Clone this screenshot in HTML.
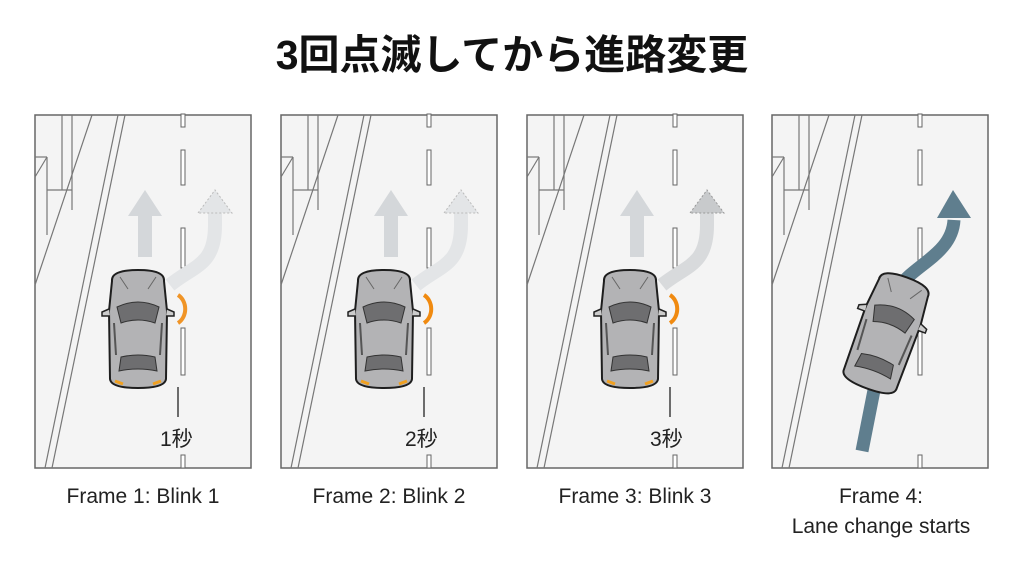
<!DOCTYPE html>
<html><head><meta charset="utf-8"><style>
body{margin:0;width:1024px;height:572px;background:#fff;overflow:hidden;font-family:"Liberation Sans","Noto Sans CJK JP",sans-serif;position:relative}
.t{position:absolute;top:30px;left:0;width:1024px;text-align:center;font-size:41px;font-weight:bold;color:#111;font-family:"Liberation Sans","Noto Sans CJK JP",sans-serif;line-height:50px}
.c{position:absolute;width:260px;text-align:center;font-size:21px;color:#222;line-height:30px}
svg{position:absolute;left:0;top:0}
</style></head><body>
<div class="t">3回点滅してから進路変更</div>
<svg width="1024" height="572" viewBox="0 0 1024 572">
<defs>
<g id="road">
<rect x="0" y="0" width="216" height="353" fill="#f4f4f4" stroke="#666" stroke-width="1.5"/>
<g stroke="#777" stroke-width="1.2" fill="none">
<line x1="83" y1="0" x2="10" y2="353"/><line x1="90" y1="0" x2="17" y2="353"/>
<line x1="57" y1="0" x2="0" y2="170"/>
<line x1="27" y1="0" x2="27" y2="75"/><line x1="37" y1="0" x2="37" y2="95"/>
<line x1="0" y1="42" x2="12" y2="42"/><line x1="12" y1="42" x2="12" y2="120"/>
<line x1="12" y1="42" x2="0" y2="62"/>
<line x1="12" y1="75" x2="37" y2="75"/>
</g>
<g fill="#fff" stroke="#666" stroke-width="1">
<rect x="146" y="-1" width="4" height="13"/><rect x="146" y="35" width="4" height="35"/>
<rect x="146" y="113" width="4" height="40"/><rect x="146" y="213" width="4" height="47"/>
<rect x="146" y="340" width="4" height="13"/>
</g>
</g>
<g id="car">
<path d="M-26,-48 Q-27,-59 0,-59 Q27,-59 26,-48 L29,-18 L28,50 Q27,59 0,59 Q-27,59 -28,50 L-29,-18 Z" fill="#b3b3b5" stroke="#1e1e1e" stroke-width="2"/>
<path d="M-21,-22 Q0,-32 21,-22 L17,-6 Q0,-12 -17,-6 Z" fill="#6e6e70" stroke="#333" stroke-width="1"/>
<path d="M-17,28 Q0,24 17,28 L19,42 Q0,38 -19,42 Z" fill="#6e6e70" stroke="#333" stroke-width="1"/>
<path d="M-24,-6 L-22,26 M24,-6 L22,26" stroke="#555" stroke-width="2"/>
<path d="M-29,-20 L-36,-17 L-36,-13 L-28,-13 M29,-20 L36,-17 L36,-13 L28,-13" fill="#ccc" stroke="#222" stroke-width="1.5"/>
<path d="M-18,-52 L-10,-40 M18,-52 L10,-40" stroke="#666" stroke-width="1"/>
</g>
<g id="straight"><path d="M93,101 L110,75 L127,101 L117,101 L117,142 L103,142 L103,101 Z" fill="#d4d7da"/></g>
<g id="dotted">
<path d="M135,170 C160,150 180,150 180,110 L180,95" stroke="#e3e5e7" stroke-width="14" fill="none"/>
<path d="M163,98 L180,75 L197,98 Z" fill="#e3e5e7" stroke="#bbb" stroke-dasharray="2,2"/>
</g>
</defs>
<g transform="translate(35,115)"><use href="#road"/><use href="#straight"/><use href="#dotted"/>
<use href="#car" transform="translate(103,214)"/>
<path d="M143,180 A14,16 0 0 1 143,208" stroke="#f08a10" stroke-width="4" fill="none" opacity="0.9"/>
<path d="M80,266 l8,3 M126,266 l-8,3" stroke="#f0a020" stroke-width="3"/>
<line x1="143" y1="272" x2="143" y2="302" stroke="#222" stroke-width="1.3"/>
<text x="125" y="331" font-size="21" fill="#222" font-family="Liberation Sans,Noto Sans CJK JP,sans-serif">1秒</text></g>
<g transform="translate(281,115)"><use href="#road"/><use href="#straight"/><use href="#dotted"/>
<use href="#car" transform="translate(103,214)"/>
<path d="M143,180 A14,16 0 0 1 143,208" stroke="#f08a10" stroke-width="4" fill="none"/>
<path d="M80,266 l8,3 M126,266 l-8,3" stroke="#f0a020" stroke-width="3"/>
<line x1="143" y1="272" x2="143" y2="302" stroke="#222" stroke-width="1.3"/>
<text x="124" y="331" font-size="21" fill="#222" font-family="Liberation Sans,Noto Sans CJK JP,sans-serif">2秒</text></g>
<g transform="translate(527,115)"><use href="#road"/><use href="#straight"/>
<path d="M135,170 C160,150 180,150 180,110 L180,95" stroke="#d8dadc" stroke-width="14" fill="none"/>
<path d="M163,98 L180,75 L197,98 Z" fill="#c8cacc" stroke="#999" stroke-dasharray="2,2"/>
<use href="#car" transform="translate(103,214)"/>
<path d="M143,180 A14,16 0 0 1 143,208" stroke="#f08a10" stroke-width="4" fill="none"/>
<path d="M80,266 l8,3 M126,266 l-8,3" stroke="#f0a020" stroke-width="3"/>
<line x1="143" y1="272" x2="143" y2="302" stroke="#222" stroke-width="1.3"/>
<text x="123" y="331" font-size="21" fill="#222" font-family="Liberation Sans,Noto Sans CJK JP,sans-serif">3秒</text></g>
<g transform="translate(772,115)"><use href="#road"/>
<path d="M90,336 L105,260 L125,175 C140,150 180,140 182,105" stroke="#5f7e8e" stroke-width="13" fill="none"/>
<path d="M165,103 L181,75 L199,103 Z" fill="#5f7e8e"/>
<use href="#car" transform="translate(115,218) rotate(20)"/></g>
</svg>
<div class="c" style="left:13px;top:482px">Frame 1: Blink 1</div>
<div class="c" style="left:259px;top:482px">Frame 2: Blink 2</div>
<div class="c" style="left:505px;top:482px">Frame 3: Blink 3</div>
<div class="c" style="left:751px;top:482px">Frame 4:<br>Lane change starts</div>
</body></html>
